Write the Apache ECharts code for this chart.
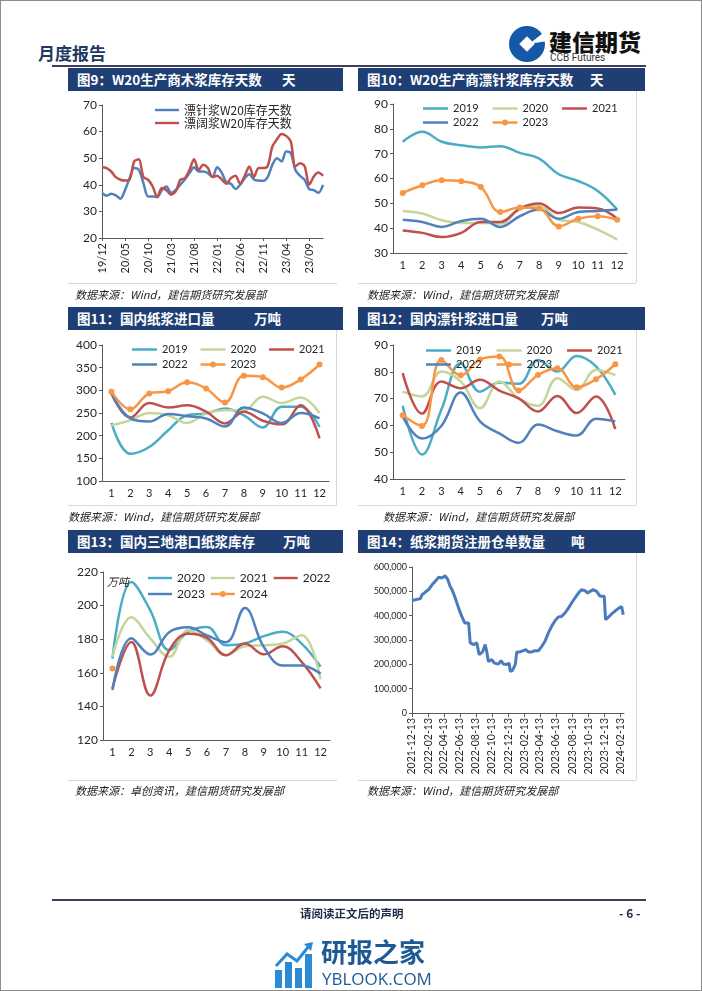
<!DOCTYPE html>
<html><head><meta charset="utf-8"><title>月度报告</title>
<script src="https://cdn.jsdelivr.net/npm/echarts@6.0.0/dist/echarts.min.js"></script>
<style>
html,body{margin:0;padding:0;background:#fff;}
#page{position:relative;width:702px;height:991px;overflow:hidden;background:#fff;font-family:"Noto Sans CJK SC",sans-serif;}
.c{position:absolute;left:0;top:0;width:702px;height:991px;}
.t{position:absolute;white-space:nowrap;line-height:1;}
.bar{position:absolute;height:23px;background:#1f3f74;color:#fff;font-size:13.5px;line-height:23px;font-weight:bold;padding-left:9px;box-sizing:border-box;white-space:nowrap;}
.bar span{position:absolute;top:0;}
.src{position:absolute;font-size:11px;line-height:1;font-style:italic;color:#222;white-space:nowrap;}
.ln{position:absolute;background:#d9d9d9;}
#border{position:absolute;left:0;top:0;width:702px;height:991px;box-sizing:border-box;border:1px solid #8c8c8c;pointer-events:none;}
</style></head>
<body>
<div id="page">
  <div class="t" style="left:38px;top:44px;font-size:17px;font-weight:bold;color:#1f3864;">月度报告</div>
  <svg style="position:absolute;left:507px;top:24px" width="40" height="40" viewBox="0 0 40 40">
    <circle cx="20" cy="20" r="18" fill="#1458a8"/>
    <rect x="14.5" y="14.5" width="11" height="11" fill="#fff" transform="rotate(45 20 20)"/>
    <path d="M22 20 L40 6 L40 17 Z" fill="#fff"/>
  </svg>
  <div class="t" style="left:549px;top:30px;font-size:23px;font-weight:900;color:#111;">建信期货</div>
  <div class="t" style="left:550px;top:53px;font-size:10px;color:#333;font-family:Roboto,sans-serif;">CCB Futures</div>
  <div style="position:absolute;left:52px;top:65px;width:594px;height:2px;background:#3c3f5c;"></div>

  <div class="bar" style="left:68px;top:68px;width:275px;">图9：W20生产商木浆库存天数<span style="left:214px">天</span></div>
  <div class="bar" style="left:358px;top:68px;width:287px;">图10：W20生产商漂针浆库存天数<span style="left:232px">天</span></div>
  <div class="bar" style="left:68px;top:307px;width:275px;">图11：国内纸浆进口量<span style="left:186px">万吨</span></div>
  <div class="bar" style="left:358px;top:307px;width:287px;">图12：国内漂针浆进口量<span style="left:183px">万吨</span></div>
  <div class="bar" style="left:68px;top:530px;width:275px;">图13：国内三地港口纸浆库存<span style="left:215px">万吨</span></div>
  <div class="bar" style="left:358px;top:530px;width:287px;">图14：纸浆期货注册仓单数量<span style="left:213px">吨</span></div>

  <div class="ln" style="left:68px;top:283px;width:269px;height:1px;"></div>
  <div class="ln" style="left:358px;top:283px;width:278px;height:1px;"></div>
  <div class="ln" style="left:636px;top:91px;width:1px;height:192px;"></div>
  <div class="ln" style="left:68px;top:505px;width:269px;height:1px;"></div>
  <div class="ln" style="left:358px;top:505px;width:278px;height:1px;"></div>
  <div class="ln" style="left:336px;top:330px;width:1px;height:175px;"></div>
  <div class="ln" style="left:636px;top:330px;width:1px;height:175px;"></div>
  <div class="ln" style="left:68px;top:780px;width:269px;height:1px;"></div>
  <div class="ln" style="left:358px;top:780px;width:278px;height:1px;"></div>
  <div class="ln" style="left:636px;top:553px;width:1px;height:227px;"></div>

  <div class="c" id="c1"></div>
  <div class="c" id="c2"></div>
  <div class="c" id="c3"></div>
  <div class="c" id="c4"></div>
  <div class="c" id="c5"></div>
  <div class="c" id="c6"></div>

  <div class="t" style="left:107px;top:576px;font-size:11px;font-style:italic;color:#222;">万吨</div>

  <div class="src" style="left:75px;top:289px;">数据来源：Wind，建信期货研究发展部</div>
  <div class="src" style="left:367px;top:289px;">数据来源：Wind，建信期货研究发展部</div>
  <div class="src" style="left:68px;top:511px;">数据来源：Wind，建信期货研究发展部</div>
  <div class="src" style="left:383px;top:511px;">数据来源：Wind，建信期货研究发展部</div>
  <div class="src" style="left:75px;top:785px;">数据来源：卓创资讯，建信期货研究发展部</div>
  <div class="src" style="left:367px;top:785px;">数据来源：Wind，建信期货研究发展部</div>

  <div style="position:absolute;left:52px;top:899px;width:594px;height:2px;background:#3c3f5c;"></div>
  <div class="t" style="left:300px;top:908px;font-size:11.5px;font-weight:bold;color:#1f2a4a;">请阅读正文后的声明</div>
  <div class="t" style="left:619px;top:907px;font-size:12px;font-weight:bold;color:#1f2a4a;">- 6 -</div>

  <svg style="position:absolute;left:274px;top:942px" width="40" height="46" viewBox="0 0 40 46">
    <rect x="1" y="28" width="7" height="18" fill="#2b8ad3"/>
    <rect x="11" y="20" width="7" height="26" fill="#2b8ad3"/>
    <rect x="21" y="26" width="7" height="20" fill="#2b8ad3"/>
    <rect x="31" y="12" width="7" height="34" fill="#2b8ad3"/>
    <polyline points="2,24 13,12 23,19 35,4" fill="none" stroke="#2b8ad3" stroke-width="3"/>
    <path d="M30 2 L39 0 L37 9 Z" fill="#2b8ad3"/>
  </svg>
  <div class="t" style="left:321px;top:938px;font-size:26px;font-weight:bold;color:#1d5a94;">研报之家</div>
  <div class="t" style="left:322px;top:970px;font-size:17px;color:#1d5a94;font-family:'Open Sans',sans-serif;">YBLOOK.COM</div>

  <div id="border"></div>
</div>

<script>
// ---------- data ----------
const c1Cats = ['19/12','20/01','20/02','20/03','20/04','20/05','20/06','20/07','20/08','20/09','20/10','20/11','20/12',
  '21/01','21/02','21/03','21/04','21/05','21/06','21/07','21/08','21/09','21/10','21/11','21/12',
  '22/01','22/02','22/03','22/04','22/05','22/06','22/07','22/08','22/09','22/10','22/11','22/12',
  '23/01','23/02','23/03','23/04','23/05','23/06','23/07','23/08','23/09','23/10','23/11','23/12'];
const c1Softwood = [36.9,35.9,36.6,36.0,34.8,38.0,42.5,46.3,45.6,40.6,35.6,35.6,35.4,38.0,39.4,37.0,38.0,40.0,42.0,44.4,46.6,45.0,45.0,44.4,42.9,46.6,44.6,40.9,40.4,38.4,40.0,42.5,44.0,42.0,41.6,41.5,43.0,47.5,50.0,48.8,52.5,51.9,45.6,43.4,41.9,38.4,38.0,37.0,40.0];
const c1Hardwood = [46.6,46.3,45.0,42.9,41.9,41.6,42.0,48.8,49.6,42.9,41.9,39.4,35.4,38.8,38.0,36.3,37.5,41.9,42.5,45.6,49.6,45.6,47.5,46.3,42.9,43.4,42.0,40.4,42.5,43.4,40.4,43.4,46.9,42.9,46.3,46.3,47.1,54.4,57.1,59.1,58.4,56.3,46.9,48.1,47.1,40.0,43.1,44.6,43.4];

const monthCats = ['1','2','3','4','5','6','7','8','9','10','11','12'];

const c2y2019 = [74.8,78.8,74.8,73.4,72.5,73.0,70.3,68.0,61.7,59.0,55.0,47.5];
const c2y2020 = [46.9,45.9,43.2,42.1,42.1,41.8,47.5,48.8,43.4,42.5,39.4,35.4];
const c2y2021 = [39.1,38.1,36.4,38.1,42.5,42.5,47.9,49.9,46.1,48.3,47.9,43.8];
const c2y2022 = [43.4,42.5,40.5,42.9,43.8,40.5,44.8,47.5,43.8,46.5,46.9,47.5];
const c2y2023 = [54.2,57.3,59.3,58.9,56.6,46.5,48.3,47.9,40.7,43.8,44.8,43.4];

const c3y2019 = [228,160,175,212,245,249,260,245,218,264,264,219];
const c3y2020 = [223,234,250,245,228,249,256,256,286,272,284,250];
const c3y2021 = [293,240,272,262,267,253,227,253,233,225,267,194];
const c3y2022 = [293,238,231,248,243,238,220,262,249,228,250,238];
const c3y2023 = [297,258,293,298,318,304,273,332,329,306,324,357];

const c4y2019 = [67.3,49.1,65.8,83.2,72.6,76.0,75.5,84.4,80.1,85.9,82.0,71.4];
const c4y2020 = [72.6,70.8,80.1,76.4,66.4,76.4,70.1,67.3,77.6,73.2,80.7,78.8];
const c4y2021 = [79.5,64.4,76.4,73.9,77.0,73.0,70.1,65.2,71.0,64.6,70.8,58.6];
const c4y2022 = [63.3,55.1,59.8,72.3,61.5,57.0,53.5,60.3,57.8,56.2,62.5,61.5];
const c4y2023 = [63.8,59.8,84.4,78.7,84.6,85.7,73.0,78.8,81.3,74.2,77.2,82.8];

const c5y2020 = [168.5,214.1,197.2,173.5,184.4,187.3,176.4,177.4,181.8,184.4,177.4,163.6];
const c5y2021 = [169.5,193.0,180.5,169.5,185.3,179.2,170.5,175.8,176.4,177.4,182.4,156.2];
const c5y2022 = [150.7,178.4,146.5,173.3,183.2,180.8,170.5,177.4,171.0,175.8,166.5,150.7];
const c5y2023 = [149.7,180.6,170.9,184.2,187.1,182.2,178.2,198.6,175.4,164.4,164.4,159.4];
const c5y2024 = [162.6];

const c6Start = '2021-12-13';
const c6End = '2024-02-26';
const c6TickLabels = ['2021-12-13','2022-02-13','2022-04-13','2022-06-13','2022-08-13','2022-10-13','2022-12-13',
  '2023-02-13','2023-04-13','2023-06-13','2023-08-13','2023-10-13','2023-12-13','2024-02-13'];
const c6Receipts = [
  ['2021-12-13',462000],['2021-12-19',470000],['2022-01-14',470000],['2022-01-20',486000],['2022-02-02',497000],
  ['2022-02-14',507000],['2022-02-27',527000],['2022-03-11',541000],['2022-03-24',558000],['2022-04-06',555000],
  ['2022-04-18',564000],['2022-04-28',548000],['2022-05-07',520000],['2022-05-14',507000],['2022-05-26',473000],
  ['2022-06-08',431000],['2022-06-20',397000],['2022-07-01',370000],['2022-07-16',370000],['2022-07-22',288000],
  ['2022-08-04',281000],['2022-08-16',288000],['2022-08-25',240000],['2022-09-07',251000],['2022-09-17',281000],
  ['2022-09-23',251000],['2022-09-29',212000],['2022-10-12',219000],['2022-10-22',205000],['2022-11-06',201000],
  ['2022-11-16',215000],['2022-11-25',201000],['2022-12-08',199000],['2022-12-17',205000],['2022-12-21',171000],
  ['2022-12-29',174000],['2023-01-09',199000],['2023-01-15',251000],['2023-01-27',251000],['2023-02-09',256000],
  ['2023-02-18',260000],['2023-02-28',251000],['2023-03-13',251000],['2023-03-25',256000],['2023-04-07',256000],
  ['2023-04-20',274000],['2023-05-02',295000],['2023-05-15',329000],['2023-05-27',356000],['2023-06-09',379000],
  ['2023-06-22',395000],['2023-07-04',397000],['2023-07-17',411000],['2023-07-30',431000],['2023-08-11',452000],
  ['2023-08-24',473000],['2023-09-06',493000],['2023-09-18',507000],['2023-10-01',503000],['2023-10-11',493000],
  ['2023-10-20',500000],['2023-11-01',507000],['2023-11-14',500000],['2023-11-27',480000],['2023-12-13',480000],
  ['2023-12-18',384000],['2023-12-28',393000],['2024-01-10',407000],['2024-01-22',418000],['2024-02-04',429000],
  ['2024-02-17',438000],['2024-02-23',404000]
];

// ---------- styles ----------
const FONT = 'Lato, "Liberation Sans", sans-serif';
const AX = '#595959', TX = '#262626';
const COL = {teal:'#4bacc6', green:'#c3d69b', red:'#c0504d', blue:'#4f81bd', orange:'#f79646'};
const LINE_ICON = 'path://M0,0H60V6H0Z';
const DOT_ICON = 'path://M0,4.2H60V10.2H0Z M37.2,7.2A7.2,7.2 0 1,1 22.8,7.2A7.2,7.2 0 1,1 37.2,7.2Z';

function line(name, data, color, marker) {
  return {
    type:'line', name:name, data:data, smooth:0.4,
    symbol: marker ? 'circle' : 'none', symbolSize: marker ? 6 : 0, showSymbol: !!marker,
    lineStyle:{color:color, width:2.5}, itemStyle:{color:color}, emphasis:{disabled:true}
  };
}
// names: plain string -> plain line icon; {name} -> line with dot
function legend(left, top, names, gap, fs, extra) {
  const data = names.map(function(n){
    if (typeof n === 'string') return {name:n, icon:LINE_ICON};
    return {name:n.name, icon:DOT_ICON};
  });
  return Object.assign({
    left:left, top:top, itemGap:gap, itemWidth:25, itemHeight:12, data:data, selectedMode:false,
    textStyle:{fontSize:fs || 11, fontFamily:FONT, color:TX}
  }, extra || {});
}
function yAxis(min, max, interval, fs, fmt) {
  return {
    type:'value', min:min, max:max, interval:interval, splitLine:{show:false},
    axisLine:{show:true, lineStyle:{color:AX}},
    axisTick:{show:true, length:3, lineStyle:{color:AX}},
    axisLabel:{fontSize:fs || 12, fontFamily:FONT, color:TX, margin:5, formatter:fmt}
  };
}
function monthlyChart(id, grid, y, series, legends) {
  const ch = echarts.init(document.getElementById(id), null, {renderer:'canvas'});
  ch.setOption({
    animation:false,
    grid: Object.assign({outerBoundsMode:'none', containLabel:false}, grid),
    xAxis: {
      type:'category', data:monthCats, boundaryGap:true,
      axisLine:{lineStyle:{color:AX}}, axisTick:{length:4, lineStyle:{color:AX}},
      axisLabel:{fontSize:11, fontFamily:FONT, color:TX, margin:7, interval:0}
    },
    yAxis: y, legend: legends, series: series
  });
}

// ---------- chart 9 ----------
(function(){
  const ch = echarts.init(document.getElementById('c1'));
  ch.setOption({
    animation:false,
    grid:{left:102, top:105, width:221, height:133, outerBoundsMode:'none', containLabel:false},
    xAxis:{
      type:'category', data:c1Cats, boundaryGap:false,
      axisLine:{lineStyle:{color:AX}},
      axisTick:{interval:4, length:3, lineStyle:{color:AX}},
      axisLabel:{interval:4, rotate:90, fontSize:11, fontFamily:FONT, color:TX, margin:5}
    },
    yAxis: yAxis(20, 70, 10, 12),
    legend: legend(150, 99, ['漂针浆W20库存天数','漂阔浆W20库存天数'], 1, 12,
      {orient:'vertical', itemWidth:24, itemHeight:12, textStyle:{fontSize:12, lineHeight:12, fontFamily:'"Noto Sans CJK SC", sans-serif', color:TX}}),
    series:[
      Object.assign(line('漂针浆W20库存天数', c1Softwood, COL.blue), {smooth:0.3}),
      Object.assign(line('漂阔浆W20库存天数', c1Hardwood, COL.red), {smooth:0.3})
    ]
  });
})();

// ---------- chart 10 ----------
monthlyChart('c2', {left:393, top:104, width:234, height:149}, yAxis(30, 90, 10, 12), [
  line('2019', c2y2019, COL.teal), line('2020', c2y2020, COL.green), line('2021', c2y2021, COL.red),
  line('2022', c2y2022, COL.blue), line('2023', c2y2023, COL.orange, true)
], [legend(418, 98, ['2019','2020','2021'], 14), legend(418, 112, ['2022',{name:'2023'}], 14)]);

// ---------- chart 11 ----------
monthlyChart('c3', {left:102, top:345, width:227, height:136}, yAxis(100, 400, 50, 12), [
  line('2019', c3y2019, COL.teal), line('2020', c3y2020, COL.green), line('2021', c3y2021, COL.red),
  line('2022', c3y2022, COL.blue), line('2023', c3y2023, COL.orange, true)
], [legend(127, 339, ['2019','2020','2021'], 13), legend(127, 354, ['2022',{name:'2023'}], 13)]);

// ---------- chart 12 ----------
monthlyChart('c4', {left:393, top:345, width:232, height:134}, yAxis(40, 90, 10, 12), [
  line('2019', c4y2019, COL.teal), line('2020', c4y2020, COL.green), line('2021', c4y2021, COL.red),
  line('2022', c4y2022, COL.blue), line('2023', c4y2023, COL.orange, true)
], [legend(421, 340, ['2019','2020','2021'], 15), legend(421, 354, ['2022',{name:'2023'}], 15)]);

// ---------- chart 13 ----------
monthlyChart('c5', {left:103, top:572, width:227, height:168}, yAxis(120, 220, 20, 12), [
  line('2020', c5y2020, COL.teal), line('2021', c5y2021, COL.green), line('2022', c5y2022, COL.red),
  line('2023', c5y2023, COL.blue), line('2024', c5y2024, COL.orange, true)
], [legend(143, 567, ['2020','2021','2022'], 6, 12, {itemWidth:24}), legend(143, 583, ['2023',{name:'2024'}], 6, 12, {itemWidth:24})]);

// ---------- chart 14 ----------
(function(){
  const days = [];
  let d = new Date(c6Start + 'T00:00:00Z');
  const e = new Date(c6End + 'T00:00:00Z');
  while (d <= e) { days.push(d.toISOString().slice(0,10)); d = new Date(d.getTime() + 86400000); }
  const tickSet = new Set(c6TickLabels);
  const show = function(i, v){ return tickSet.has(v); };
  const ch = echarts.init(document.getElementById('c6'));
  ch.setOption({
    animation:false,
    grid:{left:412, top:567, width:212, height:146, outerBoundsMode:'none', containLabel:false},
    xAxis:{
      type:'category', data:days, boundaryGap:false,
      axisLine:{lineStyle:{color:AX}},
      axisTick:{interval:show, length:4, lineStyle:{color:AX}},
      axisLabel:{interval:show, rotate:90, fontSize:10.5, fontFamily:FONT, color:TX, margin:5}
    },
    yAxis: yAxis(0, 600000, 100000, 9, function(v){ return v.toLocaleString('en-US'); }),
    series:[{
      type:'line', name:'注册仓单', data:c6Receipts, symbol:'none', showSymbol:false,
      lineStyle:{color:'#4a7cbd', width:3}, itemStyle:{color:'#4a7cbd'}, emphasis:{disabled:true}
    }]
  });
})();
</script>
</body></html>
